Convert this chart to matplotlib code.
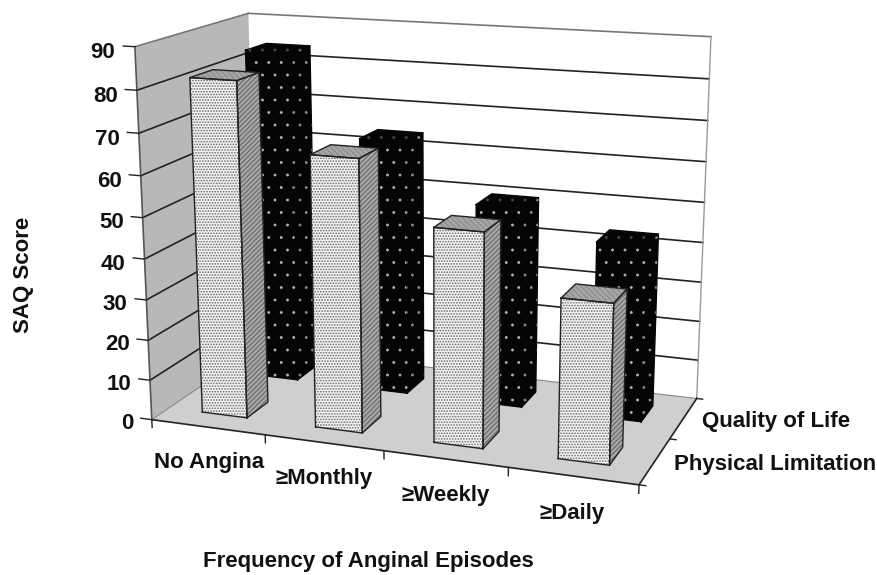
import numpy as np
import matplotlib
matplotlib.use("Agg")
import matplotlib.pyplot as plt
import matplotlib.hatch as mh
from mpl_toolkits.mplot3d.art3d import Poly3DCollection
from mpl_toolkits.mplot3d import proj3d

categories = ["No Angina", "≥Monthly", "≥Weekly", "≥Daily"]
series_names = ["Physical Limitation", "Quality of Life"]
physical_limitation = [82, 66, 51.5, 38]
quality_of_life = [84, 64, 50, 43.5]
z_ticks = [0, 10, 20, 30, 40, 50, 60, 70, 80, 90]
xlabel = "Frequency of Anginal Episodes"
ylabel = "SAQ Score"

W, H = 878, 575
FS = 16
plt.rcParams["font.family"] = ["Liberation Sans", "DejaVu Sans"]
plt.rcParams["font.weight"] = "bold"
plt.rcParams["hatch.linewidth"] = 0.8


class SparseDots(mh.Circles):
    """Small filled dots about 12 px apart, used for the dark bars."""
    size = 0.07
    filled = True

    def __init__(self, hatch, density):
        self.num_rows = hatch.count("*") * 8
        super().__init__(hatch, density)


mh._hatch_types[mh._hatch_types.index(mh.Stars)] = SparseDots

# camera: calibrated from frame corners -> image pixels
corners = [((0, 0, 0), (151.7, 419.5)), ((0, 0, 90), (135, 46.7)),
           ((0, 2, 90), (248.3, 13.3)), ((0, 2, 0), (258, 347.5)),
           ((4, 2, 90), (711, 36.7)), ((4, 2, 0), (696.7, 398.3)),
           ((4, 0, 0), (639, 485))]
rows = []
for (X, Y, Z), (u, v) in corners:
    rows.append([X, Y, Z, 1, 0, 0, 0, 0, -u*X, -u*Y, -u*Z, -u])
    rows.append([0, 0, 0, 0, X, Y, Z, 1, -v*X, -v*Y, -v*Z, -v])
P = np.linalg.svd(np.array(rows, float))[2][-1].reshape(3, 4)

fig = plt.figure(figsize=(W/100, H/100), dpi=100, facecolor="white")
ax = fig.add_axes([0, 0, 1, 1], projection="3d", computed_zorder=False)
ax.set_axis_off()
xlo, xhi = ax.viewLim.intervalx
ylo, yhi = ax.viewLim.intervaly
T = np.array([[(xhi-xlo)/W, 0, xlo], [0, -(yhi-ylo)/H, yhi], [0, 0, 1]])
Q = T @ P
M = np.vstack([Q[0], Q[1], [0, 1, 0, 0], Q[2]])
ax.get_proj = lambda: M
ax.apply_aspect = lambda position=None: None

order = [0]
def face(verts, fc, ec="none", lw=0.0, hatch=None):
    order[0] += 1
    p = Poly3DCollection([verts], facecolors=fc, edgecolors=ec, linewidths=lw,
                         hatch=hatch, zorder=order[0])
    ax.add_collection3d(p, autolim=False)
def outline(verts, color="#222222", lw=1.0):
    order[0] += 1
    v = np.array(list(verts) + [verts[0]])
    ax.plot(v[:, 0], v[:, 1], v[:, 2], color=color, lw=lw, zorder=order[0],
            solid_joinstyle="round")
def line(a, b, color="#222222", lw=1.0):
    order[0] += 1
    ax.plot([a[0], b[0]], [a[1], b[1]], [a[2], b[2]], color=color, lw=lw,
            zorder=order[0])
def label(x, y, z, s, **kw):
    xp, yp, _ = proj3d.proj_transform(x, y, z, M)
    ax.text2D(xp, yp, s, transform=ax.transData, fontsize=FS, color="#111111", **kw)

nx, ny, zmax = len(categories), len(series_names), max(z_ticks)
# walls and floor
face([(0, 0, 0), (0, ny, 0), (0, ny, zmax), (0, 0, zmax)], "#b8b8b8")
face([(0, 0, 0), (nx, 0, 0), (nx, ny, 0), (0, ny, 0)], "#cfcfcf")
for z in z_ticks[1:]:
    c = "#222222" if z < zmax else "#777777"
    line((0, 0, z), (0, ny, z), c, 1.2)
    line((0, ny, z), (nx, ny, z), c, 1.2)
line((0, 0, 0), (0, 0, zmax), "#555555", 1.2)
line((nx, ny, 0), (nx, ny, zmax), "#999999", 1.0)
line((0, ny, 0), (nx, ny, 0), "#888888", 0.8)
line((0, 0, 0), (0, ny, 0), "#888888", 0.8)
line((0, 0, 0), (nx, 0, 0), "#222222", 1.2)
line((nx, 0, 0), (nx, ny, 0), "#222222", 1.2)

# ticks and labels
for z in z_ticks:
    line((-0.1, 0, z), (0, 0, z), "#222222", 1.0)
    label(-0.17, 0, z - 1.7, str(z), ha="right", va="center")
for i in range(nx + 1):
    line((i, 0, 0), (i, 0, -2), "#222222", 1.0)
for j in range(ny + 1):
    line((nx, j, 0), (nx + 0.05, j, 0), "#222222", 1.0)
for i, name in enumerate(categories):
    label(i + 0.5, 0, -9, name, ha="center", va="center")
for j, name in enumerate(series_names):
    label(nx + 0.15, j + 0.5, -0.2, name, ha="left", va="center")
fig.text(368/W, 1 - 562/H, xlabel, ha="center", va="center", fontsize=FS, color="#111111")
fig.text(24/W, 1 - 275/H, ylabel, ha="center", va="center", rotation=90, fontsize=FS, color="#111111")

# bars, back row first
def bar(i, j, h, dark):
    x0, x1, y0, y1 = i + 0.3, i + 0.7, j + 0.3, j + 0.7
    fr = [(x0, y0, 0), (x1, y0, 0), (x1, y0, h), (x0, y0, h)]
    sd = [(x1, y0, 0), (x1, y1, 0), (x1, y1, h), (x1, y0, h)]
    tp = [(x0, y0, h), (x1, y0, h), (x1, y1, h), (x0, y1, h)]
    if dark:
        for v in (fr, sd, tp):
            outline(v, "#050505", 1.0)
        face(fr, "#050505", "#b0b0b0", 0, "*")
        face(sd, "#050505", "#8a8a8a", 0, "*")
        face(tp, "#050505", "#4a4a4a", 0, "*")
    else:
        face(fr, "#f2f2f2", "#6a6a6a", 0, "......")
        face(sd, "#a8a8a8", "#666666", 0, "///////")
        face(tp, "#a6a6a6", "#8a8a8a", 0, "\\\\\\\\\\\\")
        for v in (fr, sd, tp):
            outline(v)

for j, vals in reversed(list(enumerate([physical_limitation, quality_of_life]))):
    for i, h in enumerate(vals):
        bar(i, j, h, dark=(j == 1))

fig.savefig("out.png", dpi=100, facecolor="white")
